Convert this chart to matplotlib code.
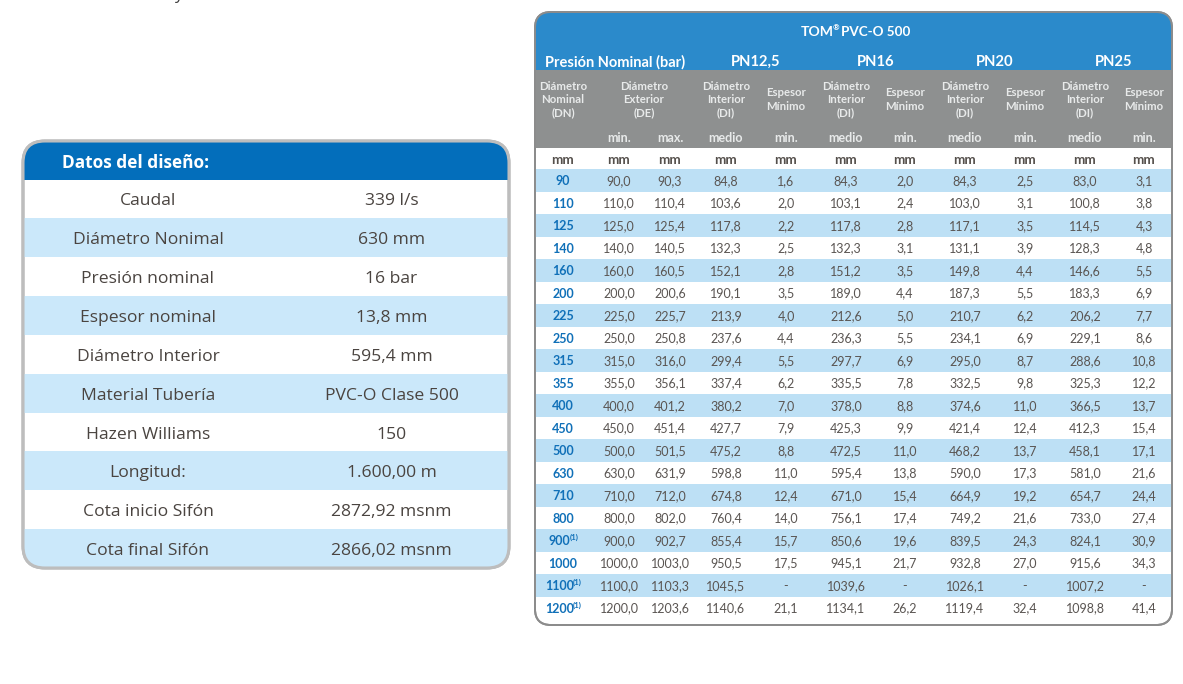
import matplotlib
matplotlib.use("Agg")
import matplotlib.pyplot as plt
from matplotlib.patches import FancyBboxPatch, Rectangle

# ---- data ----
design_labels = ["Caudal", "Diámetro Nonimal", "Presión nominal", "Espesor nominal", "Diámetro Interior",
                 "Material Tubería", "Hazen Williams", "Longitud:", "Cota inicio Sifón", "Cota final Sifón"]
design_values = ["339 l/s", "630 mm", "16 bar", "13,8 mm", "595,4 mm", "PVC-O Clase 500", "150",
                 "1.600,00 m", "2872,92 msnm", "2866,02 msnm"]
dn = ["90", "110", "125", "140", "160", "200", "225", "250", "315", "355", "400", "450", "500", "630",
      "710", "800", "900", "1000", "1100", "1200"]
dn_note = [False]*16 + [True, False, True, True]
de_min = ["90,0", "110,0", "125,0", "140,0", "160,0", "200,0", "225,0", "250,0", "315,0", "355,0", "400,0",
          "450,0", "500,0", "630,0", "710,0", "800,0", "900,0", "1000,0", "1100,0", "1200,0"]
de_max = ["90,3", "110,4", "125,4", "140,5", "160,5", "200,6", "225,7", "250,8", "316,0", "356,1", "401,2",
          "451,4", "501,5", "631,9", "712,0", "802,0", "902,7", "1003,0", "1103,3", "1203,6"]
di_125 = ["84,8", "103,6", "117,8", "132,3", "152,1", "190,1", "213,9", "237,6", "299,4", "337,4", "380,2",
          "427,7", "475,2", "598,8", "674,8", "760,4", "855,4", "950,5", "1045,5", "1140,6"]
e_125 = ["1,6", "2,0", "2,2", "2,5", "2,8", "3,5", "4,0", "4,4", "5,5", "6,2", "7,0", "7,9", "8,8", "11,0",
         "12,4", "14,0", "15,7", "17,5", "-", "21,1"]
di_16 = ["84,3", "103,1", "117,8", "132,3", "151,2", "189,0", "212,6", "236,3", "297,7", "335,5", "378,0",
         "425,3", "472,5", "595,4", "671,0", "756,1", "850,6", "945,1", "1039,6", "1134,1"]
e_16 = ["2,0", "2,4", "2,8", "3,1", "3,5", "4,4", "5,0", "5,5", "6,9", "7,8", "8,8", "9,9", "11,0", "13,8",
        "15,4", "17,4", "19,6", "21,7", "-", "26,2"]
di_20 = ["84,3", "103,0", "117,1", "131,1", "149,8", "187,3", "210,7", "234,1", "295,0", "332,5", "374,6",
         "421,4", "468,2", "590,0", "664,9", "749,2", "839,5", "932,8", "1026,1", "1119,4"]
e_20 = ["2,5", "3,1", "3,5", "3,9", "4,4", "5,5", "6,2", "6,9", "8,7", "9,8", "11,0", "12,4", "13,7", "17,3",
        "19,2", "21,6", "24,3", "27,0", "-", "32,4"]
di_25 = ["83,0", "100,8", "114,5", "128,3", "146,6", "183,3", "206,2", "229,1", "288,6", "325,3", "366,5",
         "412,3", "458,1", "581,0", "654,7", "733,0", "824,1", "915,6", "1007,2", "1098,8"]
e_25 = ["3,1", "3,8", "4,3", "4,8", "5,5", "6,9", "7,7", "8,6", "10,8", "12,2", "13,7", "15,4", "17,1", "21,6",
        "24,4", "27,4", "30,9", "34,3", "-", "41,4"]
pressure_heads = ["PN12,5", "PN16", "PN20", "PN25"]
col_heads = ["Diámetro\nNominal\n(DN)", None, None, "Diámetro\nInterior\n(DI)", "Espesor\nMínimo",
             "Diámetro\nInterior\n(DI)", "Espesor\nMínimo", "Diámetro\nInterior\n(DI)", "Espesor\nMínimo",
             "Diámetro\nInterior\n(DI)", "Espesor\nMínimo"]
sub_heads = ["", "min.", "max.", "medio", "min.", "medio", "min.", "medio", "min.", "medio", "min."]
value_cols = [de_min, de_max, di_125, e_125, di_16, e_16, di_20, e_20, di_25, e_25]

# ---- layout (pixels) ----
COLX = [563, 619, 670, 726, 786, 846, 905, 965, 1025, 1085, 1144]
FONT = "Open Sans"
TFONT = "Lato"

fig = plt.figure(figsize=(11.83, 6.84), dpi=100, facecolor="white")
ax = fig.add_axes([0, 0, 1, 1])
ax.set_xlim(0, 1183)
ax.set_ylim(684, 0)
ax.axis("off")

def px(v):
    return v * 0.72

def rounded(x0, y0, x1, y1, r, edge, lw, z):
    p = FancyBboxPatch((x0 + r, y0 + r), x1 - x0 - 2*r, y1 - y0 - 2*r,
                       boxstyle=f"round,pad={r},rounding_size={r}",
                       fc="white", ec=edge, lw=lw, zorder=z, transform=ax.transData)
    ax.add_patch(p)
    return p

def band(x0, y0, x1, y1, color, clip):
    r = Rectangle((x0, y0), x1 - x0, y1 - y0, fc=color, ec="none", zorder=2)
    ax.add_patch(r)
    r.set_clip_path(clip)

# stray fragment at the top of the source image
ax.text(178, -5, "y", fontsize=px(17), family=FONT, color="#404040", ha="center", va="center", zorder=5)

# ---- left panel ----
L0, L1, T0, T1 = 23, 509, 141, 568
clip_l = rounded(L0, T0, L1, T1, 22, "#BDBDBD", 2.2, 1)
band(L0, T0, L1, 179.5, "#036EBB", clip_l)
ax.text(62, 163, "Datos del diseño:", fontsize=px(17.3), family=FONT, weight="bold",
        color="white", ha="left", va="center", zorder=5)
h = (T1 - 179.5) / len(design_labels)
for i, (a, b) in enumerate(zip(design_labels, design_values)):
    y = 179.5 + i*h
    if i % 2 == 1:
        band(L0, y, L1, y + h, "#CBE8FA", clip_l)
    ax.text(148, y + h/2 + 2.5, a, fontsize=px(17.5), family=FONT, color="#4A4440", ha="center", va="center", zorder=5)
    ax.text(391.5, y + h/2 + 2.5, b, fontsize=px(17.5), family=FONT, color="#4A4440", ha="center", va="center", zorder=5)
# redraw border over bands
rounded(L0, T0, L1, T1, 22, "#BDBDBD", 2.2, 3).set_facecolor("none")

# ---- right panel ----
R0, R1, U0, U1 = 535, 1172, 12, 625
clip_r = rounded(R0, U0, R1, U1, 16, "#8C8C8C", 1.4, 1)
band(R0, U0, R1, 70, "#2B8ACB", clip_r)
band(R0, 70, R1, 147.5, "#8E9090", clip_r)
ax.text(800.5, 31.5, "TOM", fontsize=px(14), family=TFONT, weight="bold", color="white", ha="left", va="center", zorder=5)
ax.text(835.5, 28, "\u00ae", fontsize=px(8), family=TFONT, weight="bold", color="white", ha="center", va="center", zorder=5)
ax.text(841.5, 31.5, "PVC-O 500", fontsize=px(13.5), family=TFONT, weight="bold", color="white",
        ha="left", va="center", zorder=5)
ax.text(545, 62, "Presión Nominal (bar)", fontsize=px(14.6), family=TFONT, weight="bold", color="white",
        ha="left", va="center", zorder=5)
for cx, t in zip([756, 876, 995, 1114], pressure_heads):
    ax.text(cx, 62, t, fontsize=px(14.8), family=TFONT, weight="bold", color="white", ha="center", va="center", zorder=5)

HC = "#E8EAEA"
for cx, t in zip(COLX, col_heads):
    if t is not None:
        yc = 99.5 if t.count("\n") == 2 else 99.5
        ax.text(cx, yc, t, fontsize=px(11.4), family=TFONT, weight="bold", color=HC, ha="center", va="center",
                linespacing=1.25, zorder=5)
ax.text(644, 99.5, "Diámetro\nExterior\n(DE)", fontsize=px(11.4), family=TFONT, weight="bold", color=HC,
        ha="center", va="center", linespacing=1.25, zorder=5)
for cx, t in zip(COLX, sub_heads):
    if t:
        ax.text(cx, 138, t, fontsize=px(12.5), family=TFONT, weight="bold", color=HC, ha="center", va="center", zorder=5)
for cx in COLX:
    ax.text(cx, 160, "mm", fontsize=px(13.5), family=TFONT, weight="bold", color="#55504C", ha="center", va="center", zorder=5)

RH = 22.5
for i in range(len(dn)):
    y = 169 + i*RH
    if i % 2 == 0:
        band(R0, y, R1, y + RH, "#BDE0F5", clip_r)
    yc = y + RH/2 + 0.8
    ax.text(COLX[0] - (3.5 if dn_note[i] else 0), yc, dn[i], fontsize=px(12.5), family=TFONT, weight="bold", color="#1070B8",
            ha="center", va="center", zorder=5)
    if dn_note[i]:
        wx = COLX[0] + (11 if len(dn[i]) == 3 else 14)
        ax.text(wx, yc - 3.5, "(1)", fontsize=px(8), family=TFONT, weight="bold", color="#1070B8",
                ha="center", va="center", zorder=5)
    for cx, col in zip(COLX[1:], value_cols):
        ax.text(cx, yc, col[i], fontsize=px(12.5), family=TFONT, color="#5A5552", ha="center", va="center", zorder=5)
rounded(R0, U0, R1, U1, 16, "#8C8C8C", 1.4, 3).set_facecolor("none")

fig.savefig("out.png", dpi=100, facecolor="white")
